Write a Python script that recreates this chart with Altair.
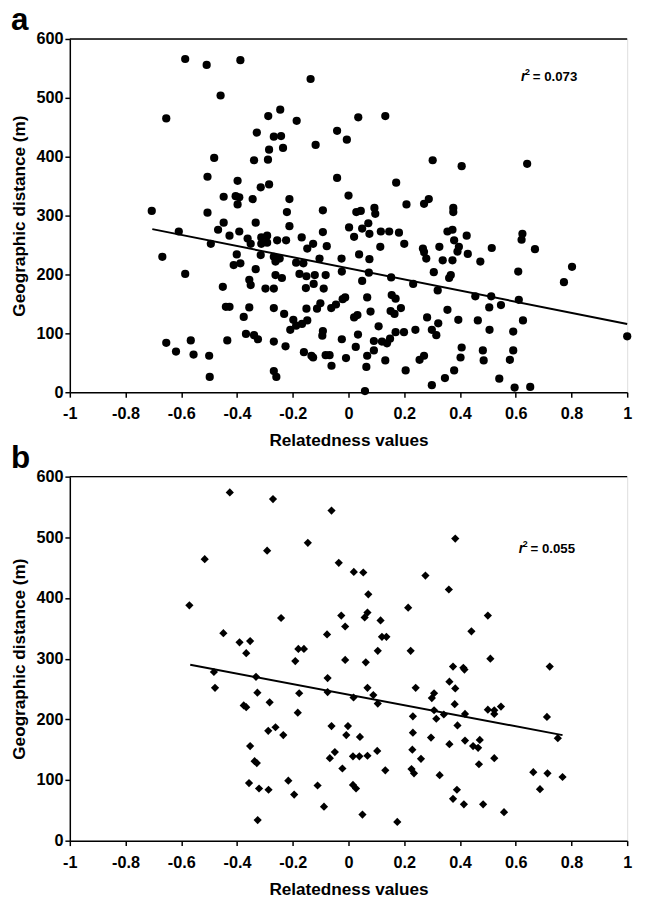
import altair as alt
import pandas as pd

FONT = "Liberation Sans"

# ---------------- data: panel a (relatedness, geographic distance) ----------------
a_x = [-0.586, -0.509, -0.388, -0.136, -0.459, -0.654, -0.245, -0.288, -0.186, -0.329,
       -0.268, -0.242, -0.041, -0.118, -0.285, -0.235, -0.482, -0.339, -0.289, -0.041,
       -0.506, -0.398, -0.285, -0.315, -0.448, -0.405, -0.392, -0.398, -0.344, -0.212,
       -0.706, -0.506, -0.221, -0.092,
       0.035, 0.132, -0.006, 0.302, 0.406, 0.641, 0.171, 0.0, 0.028, 0.044,
       0.093, 0.096, 0.208, 0.271, 0.288, 0.376, 0.376,
       -0.448, -0.333, -0.609, -0.468, -0.427, -0.392, -0.212, -0.092, -0.494, -0.362,
       -0.351, -0.313, -0.292, -0.313, -0.292, -0.256, -0.224, -0.168, -0.127, -0.148,
       -0.078, -0.668, -0.401, -0.315, -0.268, -0.247, -0.262, -0.412, -0.388, -0.333,
       -0.188, -0.162, -0.104, -0.176, -0.151, -0.121, -0.082, -0.586, -0.262, -0.239,
       -0.356, -0.351, -0.451, -0.298, -0.268, -0.153, -0.125, -0.089, -0.440, -0.427,
       -0.356, -0.268, -0.151, -0.113, -0.101, -0.376, -0.231, -0.198, -0.188, -0.209,
       -0.167, -0.148, -0.368, -0.339, -0.325, -0.435, -0.268, -0.654, -0.566, -0.619,
       -0.556, -0.500, -0.226, -0.092, -0.094, -0.160, -0.133, -0.127, -0.082, -0.068,
       -0.061, -0.498, -0.268, -0.259,
       0.002, 0.049, 0.071, 0.020, 0.075, 0.116, 0.146, 0.181, 0.200, 0.114,
       0.038, 0.075, -0.025, -0.024, 0.073, 0.049, 0.153, 0.232, 0.267, 0.271,
       0.279, 0.326, 0.338, 0.306, 0.355, 0.373, 0.379, 0.396, 0.391, 0.373,
       0.428, 0.424, 0.367, 0.361, 0.320, 0.473, 0.514, 0.624, 0.621, 0.669,
       0.609, 0.802, 0.773, 0.067, -0.062, -0.045, -0.021, -0.012, 0.155, 0.169,
       0.079, 0.151, 0.165, 0.188, 0.020, 0.032, 0.108, -0.024, 0.034, 0.091,
       0.120, 0.138, 0.149, 0.169, 0.199, 0.240, 0.282, 0.299, 0.315, 0.322,
       0.355, 0.394, 0.464, 0.455, 0.512, 0.505, 0.547, 0.611, 0.626, 0.506,
       0.591, 0.026, 0.067, 0.091, -0.009, 0.132, 0.064, 0.205, 0.255, 0.271,
       0.406, 0.402, 0.482, 0.485, 0.591, 0.579, 0.379, 0.346, 0.299, 0.541,
       0.059, 0.596, 0.652, 1.0]
a_y = [566, 556, 564, 532, 504, 465, 480, 469, 461, 441,
       434, 435, 444, 420, 412, 415, 398, 394, 395, 364,
       366, 359, 353, 348, 332, 333, 331, 319, 328, 328,
       308, 305, 306, 309,
       467, 469, 429, 394, 384, 388, 356, 334, 306, 308,
       313, 303, 319, 320, 328, 313, 306,
       288, 288, 273, 276, 266, 273, 282, 272, 252, 261,
       252, 263, 266, 252, 254, 258, 258, 263, 252, 244,
       248, 230, 234, 233, 230, 227, 222, 216, 219, 209,
       220, 219, 227, 201, 197, 199, 199, 201, 199, 194,
       191, 182, 179, 176, 176, 177, 184, 176, 145, 145,
       144, 143, 142, 142, 151, 128, 133, 123, 113, 106,
       116, 122, 99, 97, 90, 88, 86, 84, 88, 69,
       64, 62, 78, 104, 96, 68, 62, 59, 63, 63,
       45, 26, 36, 26,
       280, 278, 287, 264, 269, 273, 273, 271, 252, 247,
       234, 226, 227, 205, 203, 189, 195, 184, 244, 238,
       227, 247, 224, 204, 273, 276, 258, 247, 239, 224,
       235, 266, 199, 194, 173, 222, 245, 269, 259, 243,
       205, 213, 187, 161, 143, 149, 158, 161, 165, 159,
       137, 138, 133, 143, 127, 131, 112, 90, 98, 87,
       86, 83, 91, 102, 102, 106, 127, 106, 97, 117,
       140, 123, 122, 163, 163, 144, 148, 157, 122, 106,
       103, 77, 62, 71, 58, 54, 43, 37, 55, 62,
       76, 59, 71, 54, 71, 55, 37, 24, 12, 23,
       2, 8, 9, 95]

# ---------------- data: panel b ----------------
b_x = [-0.426, -0.271, -0.061, -0.146, -0.292, -0.516, -0.035, 0.383,
       0.019, 0.053, -0.571, -0.242, 0.071, 0.068, 0.058, -0.026, -0.012, -0.449, -0.391, -0.353,
       -0.367, -0.077, -0.180, -0.160, -0.191, -0.012, 0.062, -0.483, -0.479, -0.332,
       -0.075, 0.068, -0.327, -0.177, -0.075, 0.018, -0.283, -0.376, -0.367, -0.182,
       -0.061, -0.002, -0.008, 0.041, -0.288, -0.262, -0.234, -0.353, -0.337, -0.329,
       -0.049, -0.067, 0.016, 0.039, 0.068, -0.022, -0.357, -0.321, -0.287, -0.216,
       -0.195, -0.111, 0.016, 0.027, -0.088, -0.326, 0.050,
       0.115, 0.120, 0.136, 0.105, 0.276, 0.360, 0.214, 0.500, 0.441, 0.223,
       0.509, 0.722, 0.375, 0.412, 0.416, 0.362, 0.383, 0.089, 0.105, 0.241,
       0.299, 0.307, 0.381, 0.500, 0.523, 0.547, 0.523, 0.307, 0.315, 0.342,
       0.418, 0.231, 0.712, 0.751, 0.391, 0.231, 0.296, 0.362, 0.418, 0.447,
       0.465, 0.471, 0.523, 0.468, 0.103, 0.229, 0.260, 0.132, 0.226, 0.235,
       0.327, 0.663, 0.714, 0.768, 0.687, 0.389, 0.375, 0.414, 0.483, 0.558,
       0.175]
b_y = [574, 563, 544, 491, 478, 464, 458, 498,
       443, 442, 388, 367, 406, 376, 368, 371, 353, 342, 327, 329,
       309, 340, 316, 316, 296, 298, 294, 278, 252, 270,
       268, 252, 244, 243, 245, 236, 228, 223, 220, 211,
       189, 189, 174, 171, 181, 187, 174, 156, 131, 128,
       146, 136, 139, 139, 140, 119, 95, 86, 84, 99,
       76, 91, 92, 86, 56, 34, 43,
       363, 336, 336, 313, 437, 414, 384, 371, 345, 313,
       300, 287, 287, 285, 282, 262, 251, 240, 226, 252,
       235, 243, 225, 216, 209, 221, 215, 215, 201, 208,
       209, 205, 204, 169, 190, 178, 170, 159, 165, 156,
       153, 166, 136, 126, 148, 150, 135, 116, 118, 111,
       108, 113, 111, 105, 85, 84, 69, 60, 60, 47,
       31]

# trend lines (end points)
a_line_x = [-0.704, 1.0]
a_line_y = [277, 116]
b_line_x = [-0.568, 0.768]
b_line_y = [290, 174]

x_ticks = [-1, -0.8, -0.6, -0.4, -0.2, 0, 0.2, 0.4, 0.6, 0.8, 1]
y_ticks = [0, 100, 200, 300, 400, 500, 600]

a_r2 = ["0.073"]
b_r2 = ["0.055"]


def axis_common():
    return dict(grid=False, domainColor="black", tickColor="black", labelColor="black",
                titleColor="black", domainWidth=1.5, tickWidth=1.5, tickSize=5,
                labelFont=FONT, titleFont=FONT, labelFontWeight="bold",
                titleFontWeight="bold", labelFontSize=16.5, titleFontSize=17.5,
                labelOverlap=False)


def panel(px, py, lx, ly, shape, r2_pos, r2_val, letter, height):
    xenc = alt.X("x:Q", scale=alt.Scale(domain=[-1, 1], nice=False, zero=False),
                 axis=alt.Axis(values=x_ticks, labelExpr="'' + datum.value",
                               title="Relatedness values", labelPadding=9,
                               titlePadding=10, labelFlush=False, **axis_common()))
    yenc = alt.Y("y:Q", scale=alt.Scale(domain=[0, 600], nice=False, zero=False),
                 axis=alt.Axis(values=y_ticks, title="Geographic distance (m)",
                               labelPadding=2, titlePadding=8, **axis_common()))

    pts = alt.Chart(pd.DataFrame({"x": px, "y": py})).mark_point(
        shape=shape, filled=True, size=70, color="black", opacity=1
    ).encode(x=xenc, y=yenc)

    line = alt.Chart(pd.DataFrame({"x": lx, "y": ly})).mark_line(
        color="black", strokeWidth=2
    ).encode(x="x:Q", y="y:Q")

    top = alt.Chart(pd.DataFrame({"y": [600]})).mark_rule(
        color="black", strokeWidth=1.5
    ).encode(y="y:Q")

    r2df = pd.DataFrame({"x": [r2_pos[0]], "y": [r2_pos[1]], "v": ["= " + r2_val[0]],
                         "r": ["r"], "s": ["2"]})
    r_txt = alt.Chart(r2df).mark_text(
        align="left", baseline="alphabetic", font=FONT, fontSize=14,
        fontWeight="bold", fontStyle="italic", color="black"
    ).encode(x="x:Q", y="y:Q", text="r:N")
    s_txt = alt.Chart(r2df).mark_text(
        align="left", baseline="alphabetic", font=FONT, fontSize=9,
        fontWeight="bold", color="black", dx=4, dy=-6
    ).encode(x="x:Q", y="y:Q", text="s:N")
    v_txt = alt.Chart(r2df).mark_text(
        align="left", baseline="alphabetic", font=FONT, fontSize=13.5,
        fontWeight="bold", color="black", dx=12
    ).encode(x="x:Q", y="y:Q", text="v:N")

    let = alt.Chart(pd.DataFrame({"t": [letter]})).mark_text(
        align="left", baseline="alphabetic", font=FONT, fontSize=32,
        fontWeight="bold", color="black"
    ).encode(text="t:N", x=alt.value(-60), y=alt.value(-9))

    return alt.layer(top, pts, line, r_txt, s_txt, v_txt, let).properties(
        width=568, height=height)


pa = panel(a_x, a_y, a_line_x, a_line_y, "circle", (0.619, 528), a_r2, "a", 360)
pb = panel(b_x, b_y, b_line_x, b_line_y, "diamond", (0.611, 474), b_r2, "b", 371)

chart = alt.vconcat(pa, pb, spacing=86, bounds="flush").properties(
    padding={"left": 1, "top": -13, "right": 5, "bottom": 0}
).configure_view(stroke=None).configure(background="white")

chart.save("out.html", embed_options={"renderer": "svg", "actions": False})
